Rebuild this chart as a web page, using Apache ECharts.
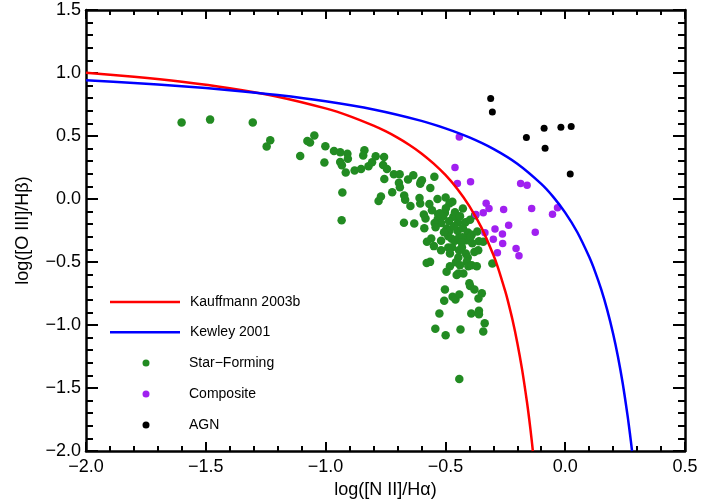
<!DOCTYPE html>
<html>
<head>
<meta charset="utf-8">
<script src="https://cdn.jsdelivr.net/npm/echarts@6/dist/echarts.min.js"></script>
<style>html,body{margin:0;padding:0;background:#fff;}#c{width:702px;height:504px;}</style>
</head>
<body>
<div id="c"></div>
<script>
// Axis ranges / ticks
const xMin = -2.0, xMax = 0.5, xStep = 0.5;
const yMin = -2.0, yMax = 1.5, yStep = 0.5;

// Demarcation curves
const kauffmannX = [-2.0,-1.8,-1.6,-1.4,-1.2,-1.0,-0.9,-0.8,-0.75,-0.7,-0.65,-0.6,-0.55,-0.5,-0.45,-0.4,-0.35,-0.3,-0.28,-0.25,-0.24,-0.22,-0.2,-0.18,-0.16,-0.15,-0.14,-0.135];
const kauffmannY = [1.002,0.970,0.930,0.879,0.812,0.719,0.658,0.582,0.538,0.487,0.429,0.362,0.283,0.191,0.080,-0.056,-0.225,-0.443,-0.548,-0.733,-0.803,-0.959,-1.140,-1.352,-1.605,-1.750,-1.911,-2.000];
const kewleyX = [-2.0,-1.8,-1.6,-1.4,-1.2,-1.0,-0.8,-0.6,-0.5,-0.4,-0.3,-0.2,-0.1,-0.05,0.0,0.05,0.1,0.125,0.15,0.175,0.2,0.22,0.24,0.26,0.27,0.279];
const kewleyY = [0.943,0.921,0.895,0.864,0.825,0.775,0.710,0.620,0.561,0.489,0.398,0.280,0.120,0.017,-0.108,-0.262,-0.459,-0.578,-0.716,-0.878,-1.069,-1.250,-1.462,-1.715,-1.859,-2.000];

// Star-forming galaxies
const sfX = [
-1.601,-1.482,-1.304,-1.231,-1.246,-1.047,-1.076,-1.065,-1.001,-1.106,
-0.965,-0.939,-0.909,-0.907,-1.005,-0.939,-0.932,-0.916,-0.930,-0.933,
-0.879,-0.852,-0.838,-0.843,-0.821,-0.806,-0.791,-0.756,-0.760,-0.744,
-0.755,-0.715,-0.691,-0.694,-0.690,-0.722,-0.769,-0.779,-0.656,-0.672,
-0.668,-0.646,-0.673,-0.634,-0.603,-0.598,-0.605,-0.546,-0.563,-0.608,
-0.605,-0.567,-0.533,-0.499,-0.471,-0.483,-0.427,-0.502,-0.530,-0.532,
-0.518,-0.590,-0.583,-0.630,-0.545,-0.467,-0.447,-0.416,-0.397,-0.376,
-0.588,-0.541,-0.495,-0.483,-0.449,-0.406,-0.390,-0.367,-0.360,-0.342,
-0.559,-0.577,-0.518,-0.488,-0.474,-0.460,-0.445,-0.429,-0.412,-0.395,
-0.432,-0.388,-0.518,-0.488,-0.481,-0.446,-0.415,-0.407,-0.379,-0.363,
-0.564,-0.578,-0.481,-0.411,-0.404,-0.495,-0.453,-0.446,-0.425,-0.390,
-0.369,-0.304,-0.502,-0.505,-0.470,-0.458,-0.442,-0.400,-0.397,-0.379,
-0.362,-0.348,-0.525,-0.392,-0.360,-0.360,-0.336,-0.342,-0.542,-0.499,
-0.437,-0.442,-0.510,-0.523,-0.498,-0.460,-0.439,-0.556,-0.485,-0.464,
-0.427,-0.506,-0.472,-0.443,-0.431,-0.456,-0.439,-0.548];
const sfY = [
0.607,0.630,0.607,0.466,0.416,0.504,0.461,0.448,0.419,0.342,
0.381,0.371,0.359,0.320,0.289,0.294,0.268,0.210,0.052,-0.168,
0.226,0.239,0.387,0.345,0.259,0.292,0.339,0.334,0.270,0.239,
0.159,0.197,0.197,0.128,0.094,0.054,0.020,-0.016,0.155,0.028,
-0.006,-0.056,-0.188,0.189,0.136,0.149,0.121,0.177,0.087,0.008,
-0.036,-0.040,0.000,0.012,-0.021,-0.036,-0.075,-0.109,-0.121,-0.158,
-0.190,-0.123,-0.155,-0.194,-0.190,-0.140,-0.186,-0.184,-0.164,-0.128,
-0.232,-0.224,-0.234,-0.251,-0.253,-0.266,-0.283,-0.258,-0.335,-0.340,
-0.313,-0.340,-0.332,-0.295,-0.315,-0.331,-0.311,-0.303,-0.327,-0.299,
-0.343,-0.351,-0.406,-0.385,-0.432,-0.464,-0.432,-0.464,-0.420,-0.406,
-0.499,-0.507,-0.533,-0.499,-0.533,-0.578,-0.604,-0.591,-0.591,-0.525,
-0.533,-0.511,-0.718,-0.808,-0.775,-0.797,-0.757,-0.668,-0.690,-0.718,
-0.789,-0.749,-0.908,-0.908,-0.886,-0.914,-0.987,-1.052,-1.030,-1.082,
-1.035,-1.429,-0.136,-0.113,-0.073,-0.105,-0.136,-0.089,-0.176,-0.216,
-0.232,-0.263,-0.382,-0.406,-0.382,-0.501,-0.525,-0.374];

// Composite galaxies
const compX = [-0.442,-0.460,-0.450,-0.395,-0.186,-0.159,-0.330,-0.318,-0.342,-0.373,-0.257,-0.140,-0.032,-0.053,-0.236,-0.125,-0.293,-0.262,-0.335,-0.300,-0.261,-0.205,-0.283,-0.193];
const compY = [0.492,0.250,0.123,0.136,0.123,0.109,-0.033,-0.075,-0.109,-0.123,-0.083,-0.075,-0.069,-0.121,-0.208,-0.263,-0.238,-0.277,-0.267,-0.319,-0.353,-0.393,-0.426,-0.451];

// AGN
const agnX = [-0.311,-0.304,-0.162,-0.088,-0.018,0.025,-0.084,0.021];
const agnY = [0.797,0.691,0.488,0.561,0.569,0.575,0.403,0.199];

const names = ['Kauffmann 2003b','Kewley 2001','Star\u2212Forming','Composite','AGN'];

const pairs = (xs, ys) => xs.map((x, i) => [x, ys[i]]);
const FONT = 'Liberation Sans, Arial, Helvetica, sans-serif';
const fmt = v => (v < 0 ? '\u2212' : '') + Math.abs(v).toFixed(1);

function axis(base, extra) {
  return Object.assign({
    type: 'value',
    axisLine: { show: true, onZero: false, lineStyle: { color: '#000', width: 2.5 } },
    splitLine: { show: false },
    axisLabel: { show: false }
  }, base, extra);
}

const xBase = { min: xMin, max: xMax, interval: xStep };
const yBase = { min: yMin, max: yMax, interval: yStep };
const xTick = { show: true, inside: true, length: 9, lineStyle: { color: '#000', width: 2 } };
const xMinor = { show: true, splitNumber: 5, length: 5, lineStyle: { color: '#000', width: 2 } };
const yTick = { show: true, inside: true, length: 12, lineStyle: { color: '#000', width: 2 } };
const yMinor = { show: true, splitNumber: 5, length: 7, lineStyle: { color: '#000', width: 2 } };

const chart = echarts.init(document.getElementById('c'), null, { renderer: 'canvas' });
chart.setOption({
  animation: false,
  backgroundColor: '#fff',
  grid: { left: 86, right: 17, top: 10, bottom: 53, containLabel: false },
  xAxis: [
    axis(xBase, {
      position: 'bottom', axisTick: xTick, minorTick: xMinor,
      axisLabel: { show: true, formatter: fmt, fontSize: 18, fontFamily: FONT, color: '#000', margin: 7 },
      name: 'log([N II]/H\u03b1)', nameLocation: 'middle', nameGap: 30,
      nameTextStyle: { fontSize: 18, fontFamily: FONT, color: '#000' }
    }),
    axis(xBase, { position: 'top', axisTick: xTick, minorTick: xMinor })
  ],
  yAxis: [
    axis(yBase, {
      position: 'left', axisTick: yTick, minorTick: yMinor,
      axisLabel: { show: true, formatter: fmt, fontSize: 18, fontFamily: FONT, color: '#000', margin: 5 },
      name: 'log([O III]/H\u03b2)', nameLocation: 'middle', nameGap: 54,
      nameTextStyle: { fontSize: 18, fontFamily: FONT, color: '#000' }
    }),
    axis(yBase, { position: 'right', axisTick: yTick, minorTick: yMinor })
  ],
  legend: [
    {
      data: [names[0], names[1]], orient: 'vertical', left: 105, top: 290,
      icon: 'rect', itemWidth: 70, itemHeight: 2.5, itemGap: 16.3, selectedMode: false,
      textStyle: { fontSize: 14, fontFamily: FONT, color: '#000', padding: [0, 0, 0, 5], lineHeight: 14 }
    },
    {
      data: [names[2], names[3], names[4]], orient: 'vertical', left: 137.5, top: 351,
      icon: 'circle', itemWidth: 7, itemHeight: 7, itemGap: 17, selectedMode: false,
      textStyle: { fontSize: 14, fontFamily: FONT, color: '#000', padding: [0, 0, 0, 34.5], lineHeight: 14 }
    }
  ],
  series: [
    { name: names[2], type: 'scatter', data: pairs(sfX, sfY),
      symbol: 'circle', symbolSize: 8.5, itemStyle: { color: '#228B22', opacity: 1 }, z: 2 },
    { name: names[3], type: 'scatter', data: pairs(compX, compY),
      symbol: 'circle', symbolSize: 7.5, itemStyle: { color: '#A020F0', opacity: 1 }, z: 2 },
    { name: names[4], type: 'scatter', data: pairs(agnX, agnY),
      symbol: 'circle', symbolSize: 7, itemStyle: { color: '#000', opacity: 1 }, z: 2 },
    { name: names[0], type: 'line', data: pairs(kauffmannX, kauffmannY),
      symbol: 'none', smooth: 0.3, lineStyle: { color: '#FF0000', width: 2.5 }, itemStyle: { color: '#FF0000' }, z: 3 },
    { name: names[1], type: 'line', data: pairs(kewleyX, kewleyY),
      symbol: 'none', smooth: 0.3, lineStyle: { color: '#0000FF', width: 2.5 }, itemStyle: { color: '#0000FF' }, z: 3 }
  ]
});
</script>
</body>
</html>
